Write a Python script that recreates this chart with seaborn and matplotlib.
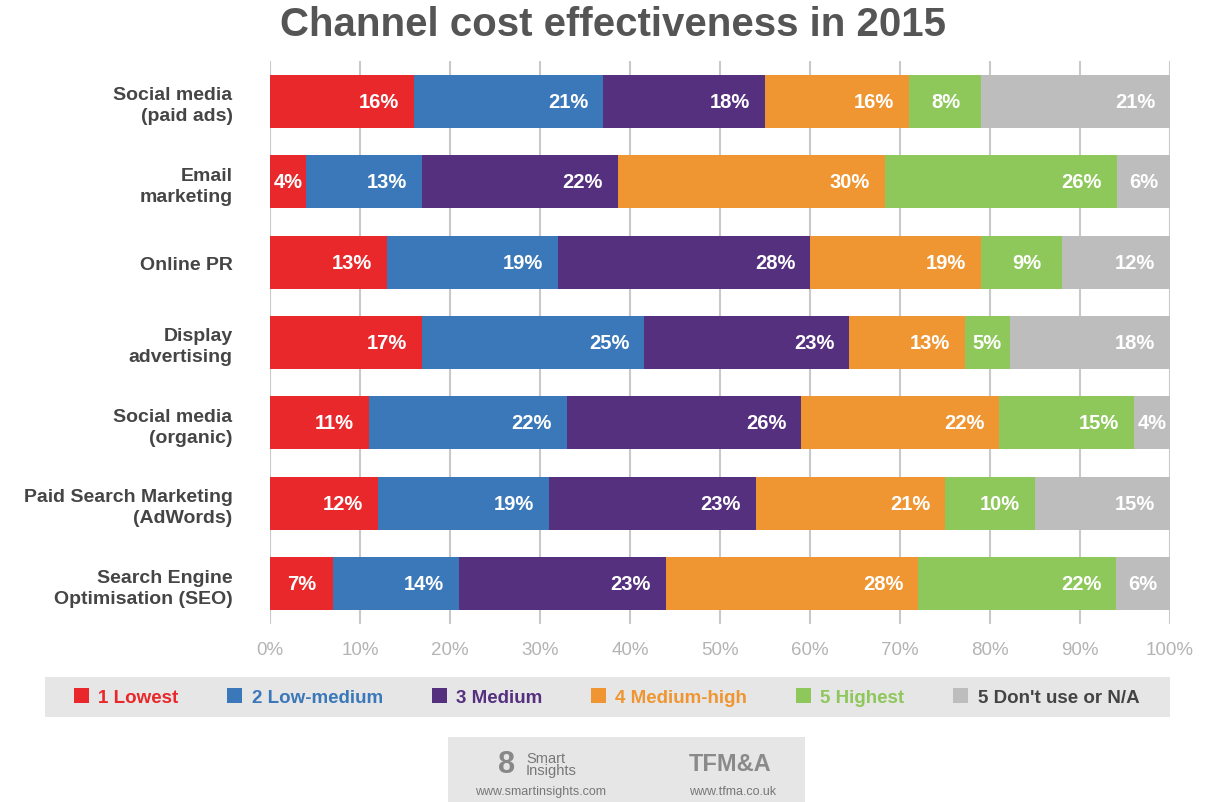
import matplotlib
matplotlib.use("Agg")
import matplotlib.pyplot as plt
from matplotlib.patches import Rectangle, Patch
import numpy as np
import pandas as pd
import seaborn as sns

sns.set_theme(style="white")
plt.rcParams["font.family"] = ["Liberation Sans", "DejaVu Sans"]

CHANNELS = [
    "Social media\n(paid ads)",
    "Email\nmarketing",
    "Online PR",
    "Display\nadvertising",
    "Social media\n(organic)",
    "Paid Search Marketing\n(AdWords)",
    "Search Engine\nOptimisation (SEO)",
]
RATINGS = ["1 Lowest", "2 Low-medium", "3 Medium", "4 Medium-high",
           "5 Highest", "5 Don't use or N/A"]
LOWEST = [16, 4, 13, 17, 11, 12, 7]
LOW_MEDIUM = [21, 13, 19, 25, 22, 19, 14]
MEDIUM = [18, 22, 28, 23, 26, 23, 23]
MEDIUM_HIGH = [16, 30, 19, 13, 22, 21, 28]
HIGHEST = [8, 26, 9, 5, 15, 10, 22]
NOT_USED = [21, 6, 12, 18, 4, 15, 6]
XTICKS = [0, 10, 20, 30, 40, 50, 60, 70, 80, 90, 100]

COLORS = ["#e8282a", "#3b78b9", "#55307f", "#ef9632", "#8ec75a", "#bdbdbd"]
TEXT_COLORS = ["#e8282a", "#3b78b9", "#55307f", "#ef9632", "#8ec75a", "#444444"]

values = np.array([LOWEST, LOW_MEDIUM, MEDIUM, MEDIUM_HIGH, HIGHEST, NOT_USED], dtype=float)
# the published rounded figures don't always add to 100, bars are scaled to fill
shares = values / values.sum(axis=0) * 100
cum = shares.cumsum(axis=0)

df = pd.DataFrame({"channel": CHANNELS})
for i, r in enumerate(RATINGS):
    df[r] = cum[i]

fig = plt.figure(figsize=(12.13, 8.03), dpi=100)
ax = fig.add_axes([0.2226, 0.2217, 0.742, 0.7011])

# draw cumulative totals back to front so they stack
for i in range(len(RATINGS) - 1, -1, -1):
    sns.barplot(data=df, x=RATINGS[i], y="channel", orient="h", color=COLORS[i],
                width=0.66, saturation=1, linewidth=0, ax=ax, zorder=2)

for i in range(len(RATINGS)):
    for j in range(len(CHANNELS)):
        end = cum[i, j]
        w = shares[i, j]
        ax.text(end - min(w / 2, 3.9), j, f"{int(values[i, j])}%", ha="center", va="center",
                color="white", fontsize=14.5, fontweight="bold", zorder=3)

ax.set_xlim(0, 100)
ax.set_ylim(6.5, -0.5)
ax.set_xticks(XTICKS)
ax.set_xticklabels([f"{t}%" for t in XTICKS], color="#b4b4b4", fontsize=13.5)
ax.xaxis.grid(True, color="#c9c9c9", linewidth=1.5, zorder=0)
ax.tick_params(axis="x", length=0, pad=12)
ax.tick_params(axis="y", length=0, pad=27)
for lab in ax.get_yticklabels():
    lab.set_fontweight("bold")
    lab.set_fontsize(14)
    lab.set_color("#454545")
    lab.set_horizontalalignment("right")
    lab.set_linespacing(1.3)
ax.set_xlabel("")
ax.set_ylabel("")
for s in ax.spines.values():
    s.set_visible(False)

fig.text(0.505, 0.969, "Channel cost effectiveness in 2015", ha="center", va="center",
         fontsize=29, fontweight="bold", color="#555555")

# legend strip
fig.patches.append(Rectangle((45 / 1213, 1 - 718 / 803), 1125 / 1213, 40 / 803,
                             transform=fig.transFigure, facecolor="#e6e6e6",
                             edgecolor="none", zorder=0))
handles = [Patch(facecolor=c, edgecolor="none") for c in COLORS]
leg = fig.legend(handles, RATINGS, loc="center", bbox_to_anchor=(0.5, 1 - 698 / 803),
                 ncol=6, frameon=False, fontsize=13.5, handlelength=0.8, handleheight=0.8,
                 handletextpad=0.5, columnspacing=2.6, labelcolor=TEXT_COLORS)
for t in leg.get_texts():
    t.set_fontweight("bold")

# source box
fig.patches.append(Rectangle((448 / 1213, 0), 357 / 1213, 65 / 803,
                             transform=fig.transFigure, facecolor="#e6e6e6",
                             edgecolor="none", zorder=0))
fig.text(526 / 1213, 1 - 765 / 803, "Smart\nInsights", ha="left", va="center",
         fontsize=10.5, color="#777777", linespacing=0.9)
fig.text(507 / 1213, 1 - 765 / 803, "8", ha="center", va="center",
         fontsize=22, fontweight="bold", color="#888888")
fig.text(730 / 1213, 1 - 765 / 803, "TFM&A", ha="center", va="center",
         fontsize=17, fontweight="bold", color="#8a8a8a")
fig.text(541 / 1213, 1 - 792 / 803, "www.smartinsights.com", ha="center", va="center",
         fontsize=9, color="#777777")
fig.text(733 / 1213, 1 - 792 / 803, "www.tfma.co.uk", ha="center", va="center",
         fontsize=9, color="#777777")

fig.savefig("out.png", dpi=100, facecolor="white")
